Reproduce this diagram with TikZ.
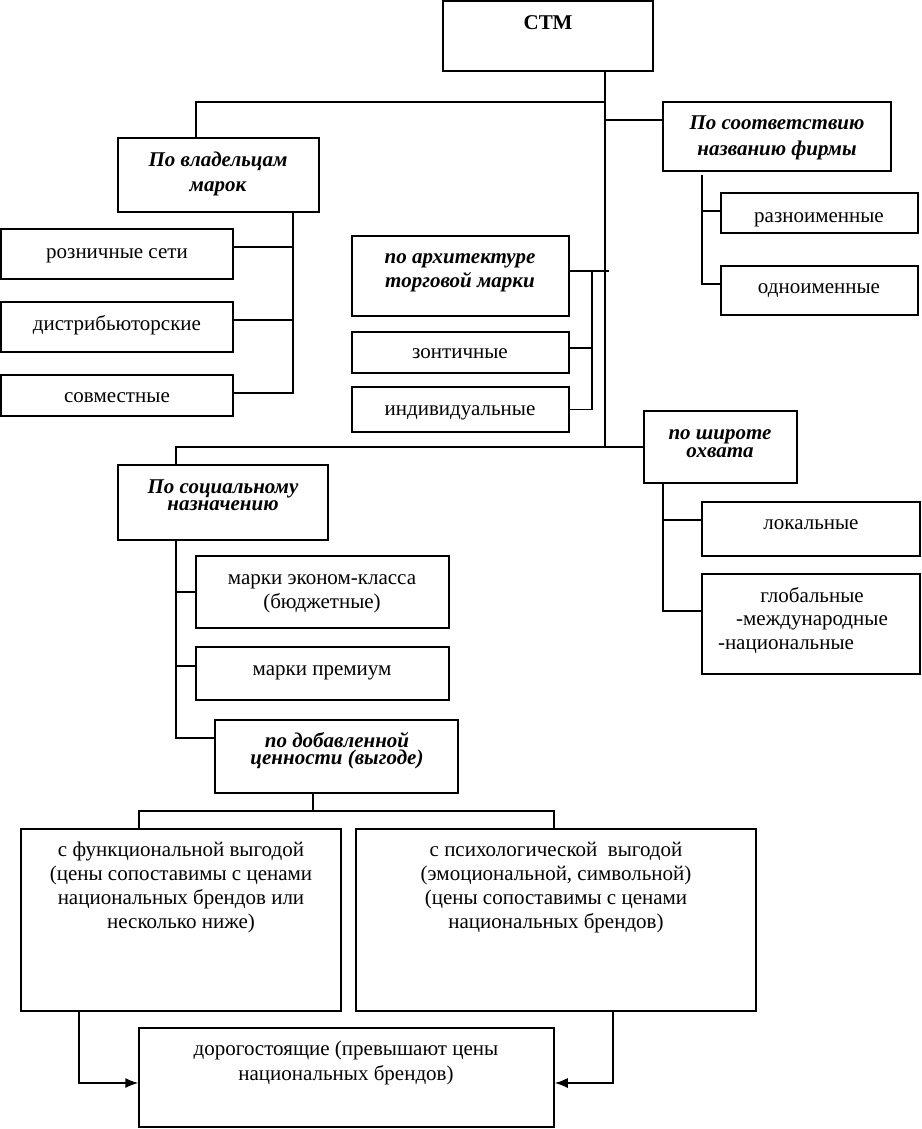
\documentclass[tikz,border=0pt]{standalone}
\usepackage{fontspec}
\setmainfont{Liberation Serif}
\usetikzlibrary{arrows.meta}
\tikzset{
  bx/.style={draw, line width=1.5pt, inner sep=0pt},
  ln/.style={line width=1.5pt},
  tx/.style={inner sep=0pt, align=center, anchor=base, font=\fontsize{21}{24}\selectfont},
  hd/.style={inner sep=0pt, align=center, anchor=base, font=\fontsize{21}{#1}\selectfont\bfseries\itshape},
  hd/.default=25,
}
\newcommand\Bx[5]{\node[bx, minimum width={#4-#2}, minimum height={#5-#3}] (#1) at ({(#2+#4)/2},{(#3+#5)/2}) {};}
\begin{document}
\begin{tikzpicture}[x=1pt,y=-1pt]
\useasboundingbox[fill=white] (0,0) rectangle (921,1129);
% boxes
\Bx{stm}{443}{1}{653}{71}
\Bx{own}{118}{138}{319}{212}
\Bx{ret}{1}{229}{233}{279}
\Bx{dist}{1}{302}{233}{352}
\Bx{joint}{1}{375}{233}{416}
\Bx{name}{663}{102}{891}{171}
\Bx{raz}{721}{193}{918}{233}
\Bx{odn}{721}{266}{918}{315}
\Bx{arch}{352}{236}{569}{316}
\Bx{zon}{352}{332}{569}{373}
\Bx{ind}{352}{387}{569}{432}
\Bx{wid}{644}{411}{797}{483}
\Bx{loc}{702}{502}{920}{556}
\Bx{glob}{702}{574}{920}{674}
\Bx{soc}{118}{465}{328}{540}
\Bx{eco}{196}{556}{449}{628}
\Bx{prem}{196}{647}{449}{700}
\Bx{add}{215}{720}{458}{793}
\Bx{func}{21}{829}{341}{1011}
\Bx{psy}{356}{829}{756}{1011}
\Bx{exp}{139}{1028}{554}{1127}
% texts
\node[tx, font=\fontsize{21}{24}\selectfont\bfseries] (stm-t) at (548,30) {СТМ};
\node[hd] (own-t) at (218,191) {По владельцам\\марок};
\node[tx] (ret-t) at (117,258) {розничные сети};
\node[tx] (dist-t) at (117,330) {дистрибьюторские};
\node[tx] (joint-t) at (117,402) {совместные};
\node[hd] (name-t) at (777,155) {По соответствию\\названию фирмы};
\node[tx] (raz-t) at (819,222) {разноименные};
\node[tx] (odn-t) at (819,293) {одноименные};
\node[hd=24] (arch-t) at (460,287) {по архитектуре\\торговой марки};
\node[tx] (zon-t) at (460,358) {зонтичные};
\node[tx] (ind-t) at (460,415) {индивидуальные};
\node[hd=18] (wid-t) at (720,457) {по широте\\охвата};
\node[tx] (loc-t) at (811,529) {локальные};
\node[tx, font=\fontsize{21}{23.5}\selectfont] (glob-t) at (812,649) {глобальные\\-международные\\-национальные\hspace*{52pt}};
\node[hd=17] (soc-t) at (223,510) {По социальному\\назначению};
\node[tx] (eco-t) at (322,608) {марки эконом-класса\\(бюджетные)};
\node[tx] (prem-t) at (322,675) {марки премиум};
\node[hd=17] (add-t) at (337,764) {по добавленной\\ценности (выгоде)};
\node[tx] (func-t) at (181,928) {с функциональной выгодой\\(цены сопоставимы с ценами\\национальных брендов или\\несколько ниже)};
\node[tx] (psy-t) at (556,928) {с психологической~ выгодой\\(эмоциональной, символьной)\\(цены сопоставимы с ценами\\национальных брендов)};
\node[tx, font=\fontsize{21}{25}\selectfont] (exp-t) at (346,1080) {дорогостоящие (превышают цены\\национальных брендов)};
% coordinates
\coordinate (tr) at (605,0);
\coordinate (o1) at (196,102);
\coordinate (o2) at (293,0);
\coordinate (n1) at (702,0);
\coordinate (a1) at (592,0);
\coordinate (a2) at (609,0);
\coordinate (w1) at (663,0);
\coordinate (s1) at (176,0);
\coordinate (d1) at (313,0);
\coordinate (d2) at (0,811);
\coordinate (e1) at (79,0);
\coordinate (e2) at (613,0);
\coordinate (e3) at (139,0);
\coordinate (e4) at (554,0);
\coordinate (nw) at ([yshift=16.5pt]name.west);
\coordinate (ae) at ([yshift=5pt]arch.east);
% connectors
\draw[ln] (stm.south -| tr) -- (tr |- wid.west);
\draw[ln] (tr |- o1) -- (o1) -- (o1 |- own.north);
\draw[ln] (own.south -| o2) |- ([yshift=2.5pt]joint.east);
\draw[ln] ([yshift=7pt]ret.east) -- ([yshift=7pt]ret.east -| o2);
\draw[ln] ([yshift=7pt]dist.east) -- ([yshift=7pt]dist.east -| o2);
\draw[ln] (nw) -- (nw -| tr);
\draw[ln] ([yshift=-3pt]name.south -| n1) |- ([yshift=6.5pt]odn.west);
\draw[ln] ([yshift=2pt]raz.west) -- ([yshift=2pt]raz.west -| n1);
\draw[ln] (ae) -- (ae -| a2);
\draw[ln] (ae -| a1) |- (ind.east);
\draw[ln] ([yshift=4.5pt]zon.east) -- ([yshift=4.5pt]zon.east -| a1);
\draw[ln] (wid.west) -- (wid.west -| s1) -- (s1 |- soc.north);
\draw[ln] (wid.south -| w1) |- ([yshift=13pt]glob.west);
\draw[ln] ([yshift=9pt]loc.west) -- ([yshift=9pt]loc.west -| w1);
\draw[ln] (soc.south -| s1) |- ([yshift=18.5pt]add.west);
\draw[ln] (eco.west) -- (eco.west -| s1);
\draw[ln] ([yshift=7.5pt]prem.west) -- ([yshift=7.5pt]prem.west -| s1);
\draw[ln] (add.south -| d1) -- (d1 |- d2);
\draw[ln] (e3 |- func.north) -- (e3 |- d2) -- (e4 |- d2) -- (e4 |- psy.north);
\draw[ln, -{Latex[length=13pt,width=10pt]}] (func.south -| e1) |- ([yshift=-5.5pt]exp.west);
\draw[ln, -{Latex[length=13pt,width=10pt]}] (psy.south -| e2) |- ([yshift=-5.5pt]exp.east);
\end{tikzpicture}
\end{document}
